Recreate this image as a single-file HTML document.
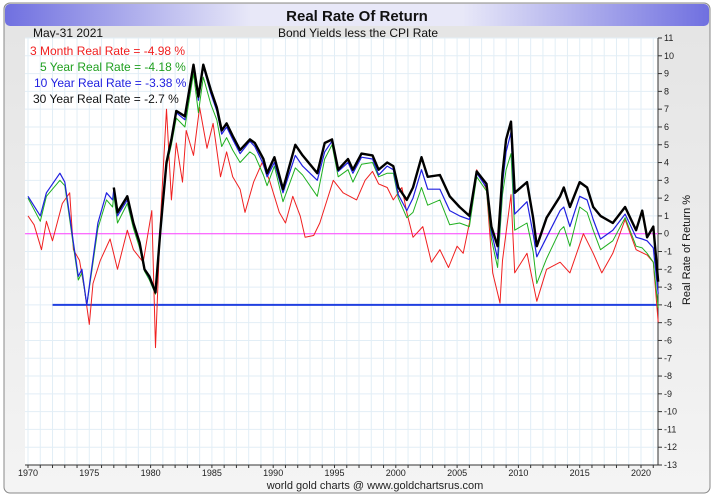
<!DOCTYPE html>
<html><head><meta charset="utf-8"><style>
body{margin:0;background:#fff;font-family:"Liberation Sans",sans-serif;}
svg{display:block}
</style></head><body>
<svg id="c" width="714" height="497" xmlns="http://www.w3.org/2000/svg">
<defs>
<linearGradient id="hd" x1="0" x2="1"><stop offset="0" stop-color="#7070e0"/><stop offset="0.35" stop-color="#e8e8f8"/><stop offset="0.65" stop-color="#e8e8f8"/><stop offset="1" stop-color="#7070e0"/></linearGradient>
<linearGradient id="bg" x1="0" y1="0" x2="0" y2="1"><stop offset="0" stop-color="#e4e4e4"/><stop offset="1" stop-color="#f4f4f4"/></linearGradient>
</defs>
<rect x="4" y="3" width="706" height="490" rx="6" fill="url(#bg)" stroke="#888"/>
<rect x="5" y="4" width="704" height="22" rx="5" fill="url(#hd)"/>
<text x="357" y="21" text-anchor="middle" font-size="15" font-weight="bold" fill="#111">Real Rate Of Return</text>
<text x="33" y="37" font-size="12" fill="#111">May-31  2021</text>
<text x="358" y="37" text-anchor="middle" font-size="12" fill="#111">Bond Yields less the CPI Rate</text>
<rect x="25" y="38" width="633" height="427" fill="#fff"/>
<g id="grid"></g><g id="axes"></g><g id="series"></g>
<text x="690" y="250" transform="rotate(-90 690 250)" text-anchor="middle" font-size="11" fill="#111">Real Rate of Return %</text>
<text x="375" y="489" text-anchor="middle" font-size="11" fill="#222">world gold charts @ www.goldchartsrus.com</text>
<g font-size="12">
<text x="30" y="55" fill="#f02020">3 Month Real Rate = -4.98 %</text>
<text x="40" y="71" fill="#20a020">5 Year Real Rate = -4.18 %</text>
<text x="34" y="87" fill="#2020e0">10 Year Real Rate = -3.38 %</text>
<text x="33" y="103" fill="#111">30 Year Real Rate = -2.7 %</text>
</g>
</svg>
<script>
const yTicks=[11,10,9,8,7,6,5,4,3,2,1,0,-1,-2,-3,-4,-5,-6,-7,-8,-9,-10,-11,-12,-13];
const xTicks=[1970,1975,1980,1985,1990,1995,2000,2005,2010,2015,2020];
const t3m=[1970,1970.5,1971.1,1971.5,1972,1972.8,1973.4,1973.7,1974.2,1974.6,
1975,1975.3,1975.9,1976.7,1977.3,1978.1,1978.6,1979.4,1980.1,1980.4,
1980.8,1981.3,1981.7,1982.1,1982.6,1982.9,1983.5,1984,1984.6,1985.1,
1985.7,1986.2,1986.7,1987.3,1987.7,1988.4,1989.1,1989.7,1990.5,1991,
1991.6,1992.2,1992.6,1993.3,1993.8,1994.4,1994.9,1995.7,1996.8,1997.5,
1998.1,1998.6,1999.3,1999.8,2000.5,2000.9,2001.4,2002.2,2002.9,2003.6,
2004.3,2005,2005.5,2006,2006.6,2007.4,2007.9,2008.5,2008.7,2009.4,
2009.7,2010.7,2011.5,2012.3,2013.4,2014.2,2015.3,2016.1,2016.8,2017.7,
2018.7,2019.6,2020.5,2021,2021.4];
const v3m=[1.0,0.5,-0.9,0.7,-0.4,1.7,2.3,-0.9,-1.5,-3.1,
-5.1,-2.8,-1.5,-0.3,-2.0,0.2,-0.9,-1.6,1.3,-6.4,
0.7,7.0,1.9,5.1,2.9,5.8,4.4,7.1,4.8,6.2,
3.2,4.6,3.2,2.5,1.2,2.9,4.0,3.0,1.2,0.6,
2.1,1.0,-0.2,-0.1,0.6,1.9,3.0,2.3,1.9,3.0,
3.5,2.8,2.6,1.9,2.6,1.2,-0.2,0.4,-1.6,-0.9,
-1.9,-0.7,-1.1,0.6,3.6,2.5,-2.2,-3.9,-1.5,2.2,
-2.2,-1.1,-3.8,-2.0,-1.6,-2.2,0,-1.1,-2.2,-1.1,
0.8,-0.9,-1.2,-1.6,-4.98];
const tLong=[1970,1971,1971.5,1972.6,1973,1973.4,1973.7,1974.1,1974.4,1974.8,1975.2,1975.7,1976.4,1976.9,
1977,1977.3,1978.1,1978.6,1979.1,1979.5,1979.9,1980.4,1980.8,1981.3,1981.7,1982.1,1982.8,1983.5,1983.9,1984.3,1984.9,1985.4,1985.8,1986.2,1986.7,1987.3,
1988.1,1988.5,1989.2,1989.5,1990.1,1990.8,1991.8,1992.4,1993.6,1994.2,1994.8,1995.3,1996.1,1996.5,1997.2,1998.1,1998.6,1999.3,1999.8,2000.2,2000.9,2001.4,2002.1,2002.6,2003.6,2004.4,2005.2,2006,2006.6,2007.4,2007.8,
2008.3,2008.7,2009,2009.4,2009.7,2010.7,2011.2,2011.5,2012.3,2013.4,2013.7,2014.2,2015,2015.6,2016.1,2016.7,2017.7,2018.7,2019.6,2020.1,2020.5,2021,2021.4];
const v5y=[2.0,0.7,2.1,3.0,2.7,0.8,-0.7,-2.6,-2.2,-4.0,-2.1,0.3,1.9,1.5,
2.2,0.6,1.7,0.3,-0.8,-2.1,-2.6,-3.4,0.0,3.8,5.0,6.5,6.0,9.0,6.8,8.8,7.3,6.4,4.9,5.4,4.7,4.0,
4.6,4.4,3.3,2.7,3.8,1.8,3.7,3.3,2.1,4.2,5.0,3.2,3.6,2.9,3.9,4.0,3.2,3.4,3.4,2.0,0.9,1.2,2.6,1.6,1.9,0.5,0.6,0.4,3.2,2.4,-0.3,
-1.9,2.2,3.6,4.5,0.2,0.6,-1.0,-2.8,-1.4,0.2,0.4,-0.7,1.5,1.2,0.2,-0.9,-0.4,0.9,-0.7,-0.8,-1.1,-1.6,-4.18];
const v10y=[2.1,1.0,2.3,3.4,2.9,1.0,-0.5,-2.4,-2.0,-4.0,-1.9,0.6,2.3,1.9,
2.5,1.0,1.9,0.5,-0.6,-2.0,-2.5,-3.3,0.2,4.0,5.2,6.8,6.4,9.4,7.5,9.4,7.9,6.9,5.6,6.0,5.3,4.5,
5.2,4.9,3.9,3.2,4.0,2.3,4.4,3.8,3.0,4.6,5.2,3.5,4.0,3.4,4.3,4.2,3.3,3.8,3.6,2.2,1.3,2.0,3.6,2.5,2.5,1.3,1.0,0.8,3.4,2.6,0.1,
-1.4,2.8,4.6,5.7,1.1,1.8,0.0,-1.3,-0.2,1.3,1.5,0.4,2.1,1.9,0.8,-0.3,0.2,1.1,-0.2,-0.3,-0.4,-0.8,-3.38];
const v30y=[null,null,null,null,null,null,null,null,null,null,null,null,null,null,
2.6,1.2,2.1,0.6,-0.5,-2.0,-2.4,-3.3,0.2,4.0,5.3,6.9,6.6,9.5,7.7,9.5,8.1,7.1,5.8,6.2,5.5,4.7,
5.3,5.1,4.2,3.4,4.3,2.5,5.0,4.4,3.4,5.1,5.3,3.6,4.2,3.6,4.5,4.4,3.6,4.0,3.8,2.6,1.9,2.6,4.3,3.2,3.3,2.1,1.5,1.0,3.5,2.8,0.4,
-0.7,3.4,5.3,6.3,2.3,2.9,0.9,-0.7,0.9,2.1,2.6,1.5,2.9,2.6,1.5,1.0,0.6,1.5,0.2,1.3,-0.2,0.4,-2.7];
const floorVal=-4, floorStart=1972, floorEnd=2021.4;

const NS="http://www.w3.org/2000/svg";
const L=25,R=658,T=38,B=465;
const X=yr=>28+(yr-1970)*12.26;
const Y=v=>T+(11-v)*(B-T)/24;
function mk(tag,attrs,parent){const e=document.createElementNS(NS,tag);for(const k in attrs)e.setAttribute(k,attrs[k]);parent.appendChild(e);return e;}
const grid=document.getElementById('grid'),axes=document.getElementById('axes'),ser=document.getElementById('series');
for(let yr=1970;yr<=2021;yr++){const x=X(yr);if(x<L||x>R)continue;
 const g=mk('line',{x1:x,x2:x,y1:T,y2:B,stroke:'#e2eef6','stroke-width':1},grid);
 
 
 const tk=mk('line',{x1:x,x2:x,y1:B,y2:B+3,stroke:'#333'},axes);
 
 }
yTicks.forEach(v=>{const y=Y(v);
 const g=mk('line',{x1:L,x2:R,y1:y,y2:y,stroke:'#e2eef6'},grid);
 
 
 mk('line',{x1:R,x2:R+4,y1:y,y2:y,stroke:'#333'},axes);
 const t=mk('text',{x:R+6,y:y+3,'font-size':9,fill:'#222'},axes);t.textContent=v;
 
 });
xTicks.forEach(yr=>{const t=mk('text',{x:X(yr),y:B+11,'font-size':9,'text-anchor':'middle',fill:'#222'},axes);t.textContent=yr;
 
 });
const ax1=mk('line',{x1:R,x2:R,y1:T,y2:B,stroke:'#333'},axes);


const ax2=mk('line',{x1:L,x2:R,y1:B,y2:B,stroke:'#333'},axes);


const zl=mk('line',{x1:L,x2:R,y1:Y(0),y2:Y(0),stroke:'#ff40ff','stroke-width':1},ser);


const fl=mk('line',{x1:X(floorStart),x2:X(floorEnd),y1:Y(floorVal),y2:Y(floorVal),stroke:'#2040e0','stroke-width':2},ser);


function line(ts,vs,color,w,name){let d='';let pen=false;
 ts.forEach((t,i)=>{const v=vs[i];if(v===null||v===undefined){pen=false;return;}d+=(pen?'L':'M')+X(t).toFixed(1)+','+Y(v).toFixed(1);pen=true;});
 const p=mk('path',{d:d,fill:'none',stroke:color,'stroke-width':w,'stroke-linejoin':'round'},ser);
 
 }
line(t3m,v3m,'#f02020',1,'series-3month');
line(tLong,v5y,'#20b020',1,'series-5year');
line(tLong,v10y,'#2020e0',1.2,'series-10year');
line(tLong,v30y,'#000',2.4,'series-30year');
</script>
</body></html>
